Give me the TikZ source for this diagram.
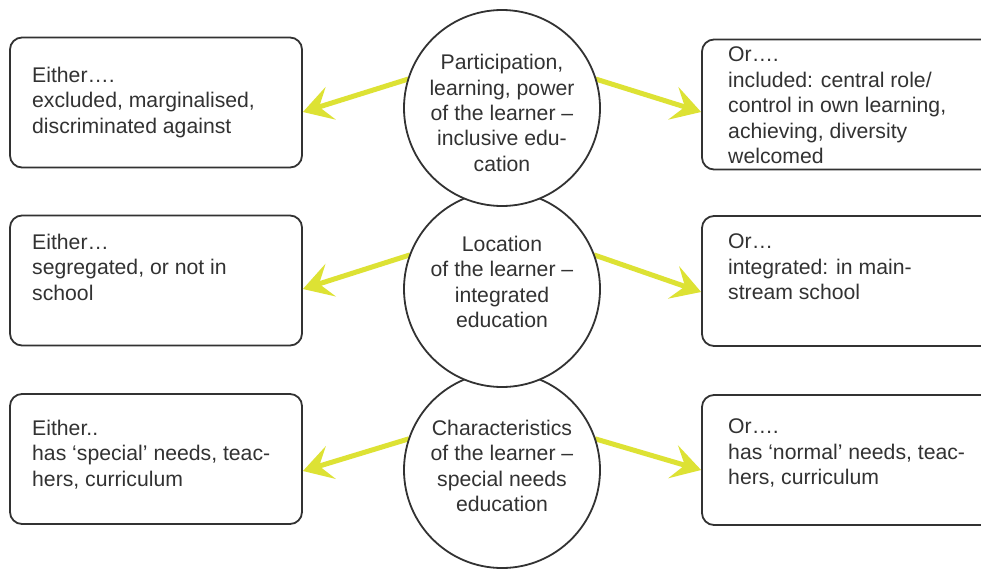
\documentclass[tikz,border=0pt]{standalone}
\usepackage{fontspec}
\setmainfont{Liberation Sans}
\usetikzlibrary{arrows.meta}
\definecolor{arrowc}{RGB}{221,226,52}
\definecolor{linec}{RGB}{50,50,50}
\begin{document}
\begin{tikzpicture}[x=1pt,y=-1pt,
 box/.style={draw=linec,line width=1.8pt,rounded corners=12pt,minimum width=292pt,minimum height=130pt,inner sep=0pt},
 circ/.style={draw=linec,fill=white,line width=1.8pt,circle,minimum size=196pt,inner sep=0pt},
 ctext/.style={align=center,inner sep=0pt,font=\fontsize{21.2}{25.3}\selectfont,text=linec},
 txt/.style={anchor=north west,align=left,inner sep=0pt,font=\fontsize{21.2}{25.5}\selectfont,text=linec},
 arr/.style={draw=arrowc,line width=5pt,-{Stealth[length=29pt,width=34pt,inset=12pt]}}]
\clip (0,0) rectangle (981,570);
\fill[white] (0,0) rectangle (981,570);
% boxes
\node[box] (L1) at (156,102.5) {};
\node[box] (R1) at (848,104.5) {};
\node[box] (L2) at (156,280.5) {};
\node[box] (R2) at (848,281) {};
\node[box] (L3) at (156,459) {};
\node[box] (R3) at (848,460) {};
% box texts
\node[txt] (tL1) at (32,66.5) {Either….\\excluded, marginalised,\\discriminated against};
\node[txt] (tR1) at (728,46.5) {Or….\\included: central role/\\control in own learning,\\achieving, diversity\\welcomed};
\node[txt] (tL2) at (32,233.5) {Either…\\segregated, or not in\\school};
\node[txt] (tR2) at (728,233.5) {Or…\\integrated: in main-\\stream school};
\node[txt] (tL3) at (32,419.5) {Either..\\has ‘special’ needs, teac-\\hers, curriculum};
\node[txt] (tR3) at (728,418.5) {Or….\\has ‘normal’ needs, teac-\\hers, curriculum};
% circle centres
\coordinate (p1) at (502,108);
\coordinate (p2) at (502,289);
\coordinate (p3) at (502,470);
% arrows
\draw[arr] ([shift={(162.8:98pt)}]p1) -- ([yshift=-9.5pt]L1.east);
\draw[arr] ([shift={(17.2:98pt)}]p1) -- ([yshift=-7.5pt]R1.west);
\draw[arr] ([shift={(159.6:98pt)}]p2) -- ([yshift=-8.5pt]L2.east);
\draw[arr] ([shift={(20.4:98pt)}]p2) -- ([yshift=-11pt]R2.west);
\draw[arr] ([shift={(161.4:98pt)}]p3) -- ([yshift=-12pt]L3.east);
\draw[arr] ([shift={(18.6:98pt)}]p3) -- ([yshift=-10pt]R3.west);
% circles
\node[circ] (c3) at (p3) {};
\node[circ] (c2) at (p2) {};
\node[circ] (c1) at (p1) {};
\node[ctext] (t1) at ([yshift=-5pt]c1.center) {Participation,\\learning, power\\of the learner –\\inclusive edu-\\cation};
\node[ctext] (t2) at ([yshift=7pt]c2.center) {Location\\of the learner –\\integrated\\education};
\node[ctext] (t3) at ([yshift=4pt]c3.center) {Characteristics\\of the learner –\\special needs\\education};
\end{tikzpicture}
\end{document}
